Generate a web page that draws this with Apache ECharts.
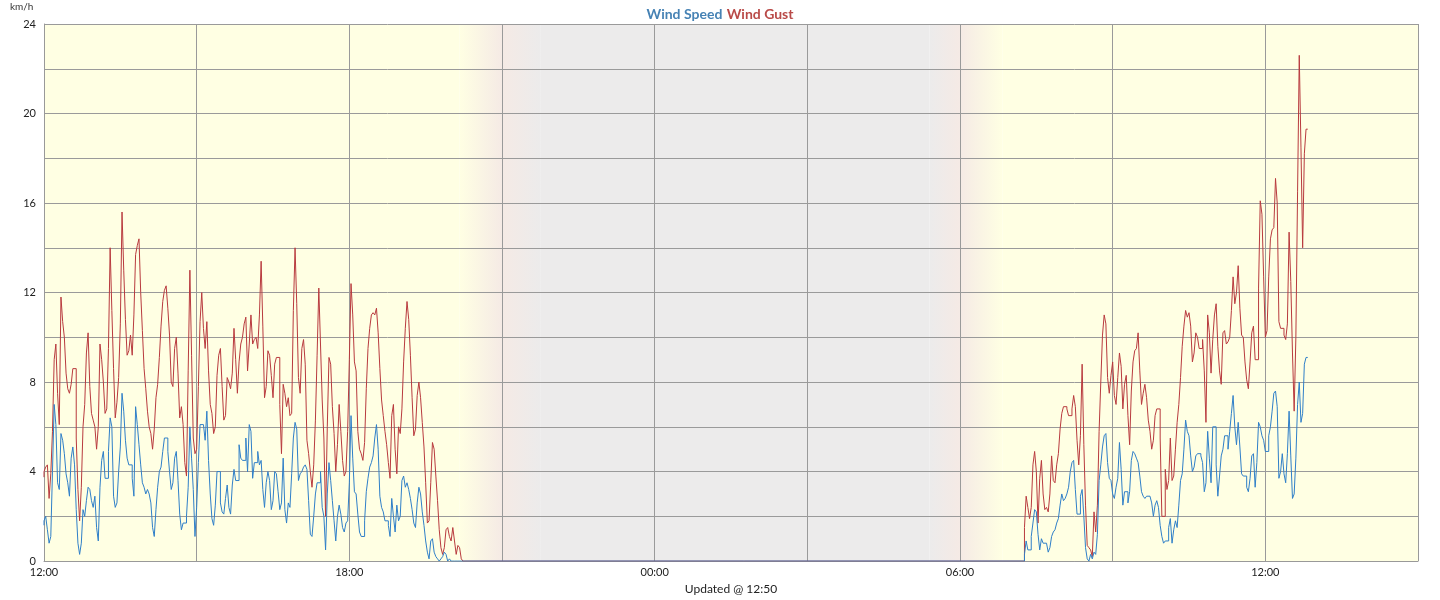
<!DOCTYPE html>
<html>
<head>
<meta charset="utf-8">
<script src="https://cdn.jsdelivr.net/npm/echarts@6/dist/echarts.min.js"></script>
<style>
html,body{margin:0;padding:0;background:#fff;}
#chart{width:1440px;height:600px;}
</style>
</head>
<body>
<div id="chart"></div>
<script>
// ---- DATA (minutes after 12:00 on day 1, 2-minute samples) ----
const stepMin = 2;
const pmStartMin = 0;      // 12:00
const amStartMin = 1156;   // 07:16 next day

const gustPm = [
3.75,4.0,4.2,4.3,2.8,3.9,5.8,9.0,9.7,7.5,
6.1,11.8,10.7,10.0,8.4,7.7,7.5,7.9,8.6,8.6,
5.5,3.2,1.8,3.3,6.0,7.0,9.3,10.2,7.8,6.6,
6.3,6.0,5.0,6.0,9.7,9.0,8.0,6.6,6.8,9.5,
14.0,11.2,8.6,6.4,7.1,8.2,10.6,15.6,13.0,10.8,
9.2,9.4,10.1,9.2,11.0,13.7,14.1,14.4,12.0,10.3,
8.6,7.7,6.7,6.0,5.7,5.0,5.9,7.3,7.9,9.1,
10.5,11.6,12.1,12.3,11.3,10.1,8.0,7.8,9.5,10.0,
8.4,6.4,6.9,6.1,4.4,3.8,
8.5,
13.0,9.2,5.5,4.8,5.0,7.8,10.7,12.0,10.4,9.5,
10.7,8.5,7.0,6.6,5.7,6.0,8.3,9.2,9.5,7.8,
6.3,6.5,8.2,8.0,7.7,8.4,10.4,9.0,7.5,8.9,
9.7,10.0,10.6,10.9,8.5,9.7,11.0,9.7,9.9,10.0,
9.5,11.0,13.4,10.5,7.3,7.8,9.4,9.2,8.3,7.3,
8.8,9.1,9.1,7.0,4.8,7.9,7.5,6.9,7.3,6.5,
6.6,11.2,14.0,11.5,8.2,7.5,9.5,9.9,8.8,5.4,
4.8,4.0,3.3,4.3,6.3,9.2,12.2,9.7,7.2,
5.5,2.0,6.0,9.1,8.8,6.9,5.7,4.0,5.2,7.0,
5.8,4.5,3.8,4.0,5.8,9.0,12.4,11.0,8.9,8.5,
5.8,5.0,4.8,4.5,5.3,7.7,9.5,10.4,11.0,11.1,
11.0,11.3,10.2,8.6,7.2,6.5,5.8,5.2,4.4,3.7,
6.5,7.0,5.0,3.9,6.0,5.7,6.8,8.9,10.4,11.6,
10.8,9.2,7.3,5.6,5.9,7.4,8.0,7.3,6.2,5.1,
3.5,1.7,1.8,3.5,5.3,5.0,3.8,2.7,1.4,0.6,
0.3,0.6,1.4,1.5,1.1,0.9,1.5,0.9,0.3,0.7,
0.6,0.1,0
];

const speedPm = [
1.6,1.8,2.0,1.4,0.8,1.1,4.0,7.0,6.1,3.5,
3.2,5.7,5.4,4.8,3.9,3.5,2.9,4.6,5.1,4.3,
2.3,0.8,0.3,0.8,2.3,2.0,2.7,3.3,3.2,2.7,
2.4,2.9,1.5,0.9,3.3,4.5,4.9,3.7,3.7,4.9,
6.4,6.0,2.9,2.4,2.6,4.0,5.1,7.5,6.7,5.4,
4.6,4.3,4.3,3.7,2.9,6.9,6.1,5.2,4.3,3.5,
3.3,3.0,3.2,3.0,2.6,1.5,1.1,2.3,3.3,4.0,
4.2,4.9,5.5,5.5,4.9,4.0,3.2,3.5,4.6,4.9,
3.6,2.1,1.4,1.7,1.7,2.0,
3.3,
6.0,4.6,3.2,1.1,2.4,4.4,6.1,6.1,6.1,5.4,
6.7,4.5,3.0,1.9,1.6,2.5,4.0,4.0,2.6,2.2,
2.1,2.8,3.4,2.4,2.1,3.4,4.1,3.6,3.6,5.2,
4.6,4.5,4.5,5.5,4.0,6.1,5.8,3.7,4.4,4.4,
4.9,4.3,4.5,3.2,2.4,3.5,4.0,3.6,2.3,2.7,
4.0,3.9,3.1,2.3,2.6,4.6,2.3,1.7,2.6,2.4,
3.9,5.5,6.2,5.9,3.6,3.9,4.0,4.2,4.3,4.1,
2.7,1.2,1.1,2.0,3.0,3.5,3.5,4.0,2.4,
2.0,0.5,3.0,4.4,3.6,2.7,1.8,0.9,2.0,2.5,
2.1,1.5,1.3,1.7,1.8,3.5,6.5,4.6,3.1,3.0,
2.1,1.3,1.1,1.1,1.8,3.1,3.7,4.2,4.4,4.7,
5.5,6.1,5.0,2.9,2.4,2.2,1.8,1.8,1.6,1.1,
2.8,2.0,1.3,2.5,1.8,2.0,3.6,3.8,3.3,3.5,
3.2,2.8,2.3,1.7,1.5,2.6,3.3,3.0,2.2,1.6,
0.9,0.4,0.1,0.9,1.0,0.4,0.2,0.1,0,0.1,
0.2,0.4,0.3,0,0.1,0,0,0,0,0,
0,0,0
];

const gustAm = [
0,1.5,2.9,2.4,1.9,2.4,4.3,4.9,4.0,1.7,
3.7,4.5,3.0,2.3,2.4,2.2,3.0,4.7,3.6,3.5,
4.3,4.8,5.9,6.6,6.9,6.9,6.8,6.5,6.5,6.8,
7.4,6.9,5.4,4.3,5.6,8.8,5.2,2.5,0.7,0.6,
0.5,0.2,2.2,1.3,2.5,5.8,8.0,10.1,11.0,10.6,
8.2,7.5,8.3,8.9,7.4,7.0,8.2,9.3,8.7,6.8,
7.9,8.3,6.5,5.2,7.6,8.9,9.4,9.5,10.2,8.5,
7.0,7.5,7.9,7.3,6.3,5.8,5.0,5.4,6.5,6.8,
6.8,5.5,2.0,
2.0,4.1,3.2,3.6,5.5,3.6,3.8,5.0,6.2,7.0,
8.2,9.6,10.5,11.2,10.9,11.1,10.5,8.9,9.3,10.2,
10.0,9.5,9.5,9.9,8.5,6.2,11.0,10.2,8.4,9.9,
11.0,11.5,9.6,8.5,7.9,10.2,10.3,9.7,9.8,10.0,
11.2,12.7,11.5,12.0,13.2,11.3,10.1,10.0,8.9,8.1,
7.7,8.9,10.2,10.5,9.0,9.0,12.2,16.1,15.5,12.7,
10.0,10.3,12.7,14.4,14.8,14.9,17.1,16.0,10.7,10.4,
10.4,10.1,9.9,10.6,14.7,12.5,9.3,6.7,10.0,16.5,
22.6,18.5,14.0,18.2,19.3
];

const speedAm = [
0,0.3,0.9,0.5,0.5,1.1,1.7,2.3,2.2,1.2,
0.5,1.0,0.8,0.8,0.8,0.4,0.6,1.1,1.3,1.4,
1.7,1.9,2.5,3.0,2.7,2.8,3.0,3.3,4.0,4.4,
4.5,3.2,2.1,2.1,2.9,3.2,2.0,0.6,0.1,0,
0.3,0.1,0.4,0.3,1.2,3.6,4.3,5.1,5.6,5.7,
4.4,3.7,3.6,3.0,2.8,3.3,3.7,5.3,4.1,2.5,
3.1,3.1,2.6,3.1,4.5,4.9,4.8,4.6,4.4,3.8,
3.1,2.9,2.8,2.9,2.9,2.9,2.6,2.0,2.5,2.7,
2.4,1.6,1.1,
0.8,0.9,0.9,1.5,1.9,0.8,1.4,1.8,1.5,2.5,
3.6,3.9,5.0,6.3,5.8,5.6,4.7,4.0,4.2,4.7,
4.8,4.8,4.7,4.4,3.1,3.5,5.8,4.6,3.5,6.0,
6.0,4.3,2.9,3.8,4.7,5.0,5.6,5.6,5.0,5.8,
6.6,7.4,6.0,5.2,6.2,5.1,3.9,3.8,3.8,3.3,
3.1,3.7,4.7,4.8,3.3,4.4,6.2,6.0,5.6,5.4,
4.9,4.9,5.6,6.0,6.7,7.5,7.6,6.9,3.7,4.0,
4.8,3.9,3.5,4.8,6.7,4.7,2.8,3.0,4.6,7.0,
8.0,6.2,6.6,8.8,9.1
];

const xTickLabels = ['12:00', '18:00', '00:00', '06:00', '12:00'];
const yTickLabels = ['0', '4', '8', '12', '16', '20', '24'];
const seriesNames = ['Wind Speed', 'Wind Gust'];
const unitLabel = 'km/h';
const updatedLabel = 'Updated @ 12:50';
// twilight / night boundaries (minutes after 12:00)
const nightBounds = [490, 540, 585, 1044, 1080, 1130];

// ---- build ----
function pairs(start, arr) { return arr.map((v, i) => [start + i * stepMin, v]); }
const gustData = pairs(pmStartMin, gustPm).concat(pairs(amStartMin, gustAm));
const speedData = pairs(pmStartMin, speedPm).concat(pairs(amStartMin, speedAm));

const YEL = '#FFFFE3', PINK = '#F5EAE5', GRAY = '#ECEBEB';
const grad = (a, b) => new echarts.graphic.LinearGradient(0, 0, 1, 0, [{offset: 0, color: a}, {offset: 1, color: b}]);
const band = (x0, x1, a, b) => [{xAxis: x0, yAxis: 0, itemStyle: {color: grad(a, b)}}, {xAxis: x1, yAxis: 24}];
const [n0, n1, n2, n3, n4, n5] = nightBounds;

const chart = echarts.init(document.getElementById('chart'), null, {renderer: 'canvas'});
chart.setOption({
  animation: false,
  backgroundColor: '#ffffff',
  textStyle: {fontFamily: 'Lato'},
  title: {
    text: '{a|' + seriesNames[0] + '} {b|' + seriesNames[1] + '}',
    left: 'center', top: 0,
    textStyle: {
      rich: {
        a: {color: '#4682B4', fontSize: 14, fontWeight: 'bold', fontFamily: 'Lato'},
        b: {color: '#B94A48', fontSize: 14, fontWeight: 'bold', fontFamily: 'Lato'}
      }
    }
  },
  graphic: [{type: 'text', left: 10, top: 2, style: {text: unitLabel, fontSize: 10, fill: '#333', fontFamily: 'Lato'}}],
  grid: {left: 44, right: 22, top: 24, bottom: 36, containLabel: false},
  xAxis: {
    type: 'value', min: 0, max: 1620, interval: 180, z: 2,
    name: updatedLabel, nameLocation: 'middle', nameGap: 20,
    nameTextStyle: {fontSize: 12, color: '#222', fontFamily: 'Lato'},
    axisLine: {show: true, lineStyle: {color: '#999', width: 1}},
    axisTick: {show: false},
    axisLabel: {
      fontSize: 11, color: '#222', margin: 6, fontFamily: 'Lato',
      formatter: v => (v % 360 === 0 ? xTickLabels[v / 360] : '')
    },
    splitLine: {show: true, lineStyle: {color: '#9a9a9a', width: 1}}
  },
  yAxis: {
    type: 'value', min: 0, max: 24, interval: 2, z: 2,
    axisLine: {show: true, lineStyle: {color: '#999', width: 1}},
    axisTick: {show: false},
    axisLabel: {
      fontSize: 11, color: '#222', margin: 8, fontFamily: 'Lato',
      formatter: v => (v % 4 === 0 ? yTickLabels[v / 4] : '')
    },
    splitLine: {show: true, lineStyle: {color: '#9a9a9a', width: 1}}
  },
  series: [
    {
      type: 'line', data: [], z: 1, silent: true,
      markArea: {
        silent: true,
        data: [
          band(0, n0, YEL, YEL),
          band(n0, n1, YEL, PINK),
          band(n1, n2, PINK, GRAY),
          band(n2, n3, GRAY, GRAY),
          band(n3, n4, GRAY, PINK),
          band(n4, n5, PINK, YEL),
          band(n5, 1620, YEL, YEL)
        ]
      }
    },
    {
      name: seriesNames[1], type: 'line', step: 'start', data: gustData, z: 3,
      showSymbol: false, symbol: 'none',
      lineStyle: {color: '#B83A3E', width: 1}, itemStyle: {color: '#B83A3E'}
    },
    {
      name: seriesNames[0], type: 'line', step: 'start', data: speedData, z: 4,
      showSymbol: false, symbol: 'none',
      lineStyle: {color: '#2F7FC8', width: 1}, itemStyle: {color: '#2F7FC8'}
    }
  ]
});
</script>
</body>
</html>
